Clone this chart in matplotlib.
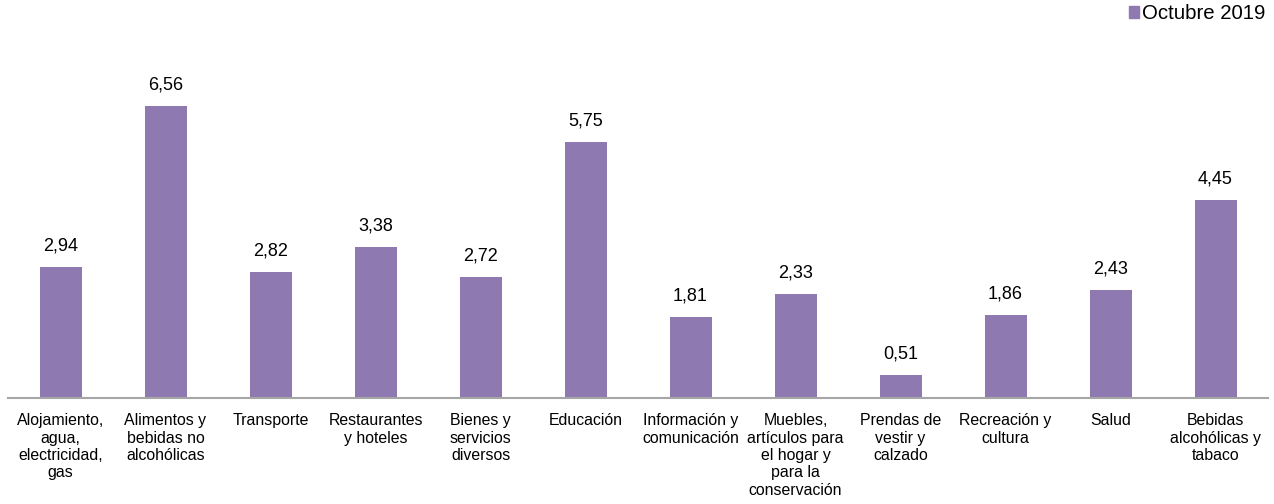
import matplotlib.pyplot as plt
from matplotlib.patches import Patch

plt.rcParams['font.family'] = ['Liberation Sans', 'DejaVu Sans']

categorias = [
    'Alojamiento,\nagua,\nelectricidad,\ngas',
    'Alimentos y\nbebidas no\nalcohólicas',
    'Transporte',
    'Restaurantes\ny hoteles',
    'Bienes y\nservicios\ndiversos',
    'Educación',
    'Información y\ncomunicación',
    'Muebles,\nartículos para\nel hogar y\npara la\nconservación',
    'Prendas de\nvestir y\ncalzado',
    'Recreación y\ncultura',
    'Salud',
    'Bebidas\nalcohólicas y\ntabaco',
]
valores = [2.94, 6.56, 2.82, 3.38, 2.72, 5.75, 1.81, 2.33, 0.51, 1.86, 2.43, 4.45]
serie = 'Octubre 2019'
color_barra = '#8E7AB0'

fig = plt.figure(figsize=(12.74, 5.04), dpi=100)
ax = fig.add_axes([8 / 1274, 1 - 398 / 504, 1260 / 1274, (398 - 64) / 504])

x = list(range(len(valores)))
barras = ax.bar(x, valores, width=0.4, color=color_barra)
ax.set_xlim(-0.5, len(valores) - 0.5)
ax.set_ylim(0, 7.5)

for b, v in zip(barras, valores):
    ax.annotate(f'{v:.2f}'.replace('.', ','), (b.get_x() + b.get_width() / 2, v),
                xytext=(0, 9), textcoords='offset points',
                ha='center', va='bottom', fontsize=13, color='#000000')

ax.set_xticks(x)
ax.set_xticklabels(categorias, fontsize=11.4, linespacing=1.2, va='top')
ax.tick_params(axis='x', length=0, pad=11)
ax.set_yticks([])
for s in ['top', 'right', 'left']:
    ax.spines[s].set_visible(False)
ax.spines['bottom'].set_color('#A6A6A6')
ax.spines['bottom'].set_linewidth(1.5)

fig.legend(handles=[Patch(color=color_barra, label=serie)], loc='upper right',
           bbox_to_anchor=(1.0, 1.008), frameon=False, fontsize=14.7,
           handlelength=0.5, handleheight=0.5, handletextpad=0.15, borderaxespad=0.0)

plt.savefig('out.png', dpi=100)
